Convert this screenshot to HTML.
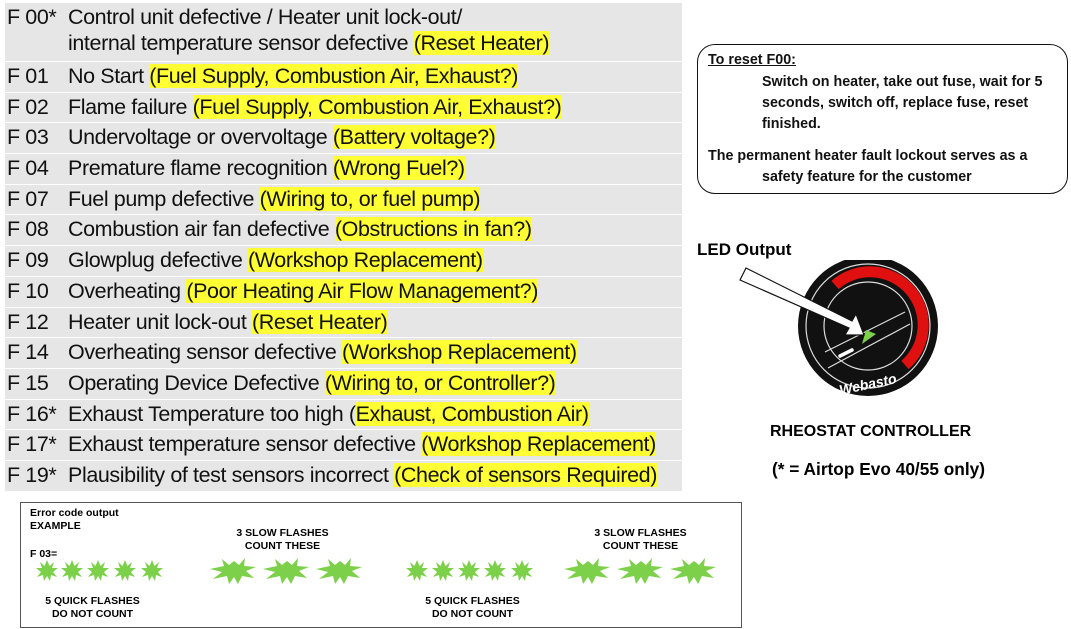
<!DOCTYPE html>
<html><head><meta charset="utf-8"><style>
body{margin:0;width:1071px;height:629px;background:#fff;position:relative;overflow:hidden;font-family:"Liberation Sans",Arial,sans-serif}
.tbl{position:absolute;left:5px;top:3px;width:677px;background:#e6e6e6}
.row{position:relative;height:29.7px;border-bottom:1px solid #fff;font-size:21.5px;line-height:29.7px;color:#111;white-space:nowrap;letter-spacing:-0.4px}
.row .c{position:absolute;left:2px}
.row .d{position:absolute;left:63px}
.y{background:#ffff33}
.b{font-weight:bold}
.abs{position:absolute}
</style></head><body>
<div class="tbl">
<div class="row" style="height:58px;line-height:26px"><span class="c" style="top:1px">F 00*</span><span class="d" style="top:1px">Control unit defective / Heater unit lock-out/<br>internal temperature sensor defective <span class="y">(Reset Heater)</span></span></div>
<div class="row"><span class="c">F 01</span><span class="d">No Start <span class="y">(Fuel Supply, Combustion Air, Exhaust?)</span></span></div>
<div class="row"><span class="c">F 02</span><span class="d">Flame failure <span class="y">(Fuel Supply, Combustion Air, Exhaust?)</span></span></div>
<div class="row"><span class="c">F 03</span><span class="d">Undervoltage or overvoltage <span class="y">(Battery voltage?)</span></span></div>
<div class="row"><span class="c">F 04</span><span class="d">Premature flame recognition <span class="y">(Wrong Fuel?)</span></span></div>
<div class="row"><span class="c">F 07</span><span class="d">Fuel pump defective <span class="y">(Wiring to, or fuel pump)</span></span></div>
<div class="row"><span class="c">F 08</span><span class="d">Combustion air fan defective <span class="y">(Obstructions in fan?)</span></span></div>
<div class="row"><span class="c">F 09</span><span class="d">Glowplug defective <span class="y">(Workshop Replacement)</span></span></div>
<div class="row"><span class="c">F 10</span><span class="d">Overheating <span class="y">(Poor Heating Air Flow Management?)</span></span></div>
<div class="row"><span class="c">F 12</span><span class="d">Heater unit lock-out <span class="y">(Reset Heater)</span></span></div>
<div class="row"><span class="c">F 14</span><span class="d">Overheating sensor defective <span class="y">(Workshop Replacement)</span></span></div>
<div class="row"><span class="c">F 15</span><span class="d">Operating Device Defective <span class="y">(Wiring to, or Controller?)</span></span></div>
<div class="row"><span class="c">F 16*</span><span class="d">Exhaust Temperature too high (<span class="y">Exhaust, Combustion Air)</span></span></div>
<div class="row"><span class="c">F 17*</span><span class="d">Exhaust temperature sensor defective <span class="y">(Workshop Replacement)</span></span></div>
<div class="row" style="border-bottom:none"><span class="c">F 19*</span><span class="d">Plausibility of test sensors incorrect <span class="y">(Check of sensors Required)</span></span></div>
</div>

<div class="abs b" style="left:697px;top:44px;width:369px;height:148px;border:1.5px solid #111;border-radius:18px;font-size:14.3px;line-height:21px;color:#111;white-space:nowrap">
<div style="position:absolute;left:10px;top:5px;text-decoration:underline">To reset F00:</div>
<div style="position:absolute;left:64px;top:27px">Switch on heater, take out fuse, wait for 5<br>seconds, switch off, replace fuse, reset<br>finished.</div>
<div style="position:absolute;left:10px;top:101px">The permanent heater fault lockout serves as a<br><span style="padding-left:54px">safety feature for the customer</span></div>
</div>

<div class="abs b" style="left:697px;top:240px;font-size:17px">LED Output</div>
<svg class="abs" style="left:730px;top:260px" width="230" height="140" viewBox="730 260 230 140">
<circle cx="868" cy="326" r="70" fill="#111"/>
<circle cx="868" cy="326" r="62" fill="none" stroke="#ddd" stroke-width="1.2"/>
<path d="M 835 285 A 52 52 0 1 1 905 365" fill="none" stroke="#e01010" stroke-width="11"/>
<circle cx="868" cy="326" r="44" fill="#111" stroke="#ddd" stroke-width="1.2"/>
<line x1="825" y1="352" x2="905" y2="312" stroke="#ddd" stroke-width="1.2"/>
<line x1="828" y1="368" x2="910" y2="324" stroke="#ddd" stroke-width="1.2"/>
<line x1="840" y1="356" x2="852" y2="350" stroke="#fff" stroke-width="3.5" stroke-linecap="round"/>
<polygon points="862,344 876,334 866,330" fill="#7dd04a"/>
<polygon points="740,280 746,268 852,321 856,314 864,335 845,335 849,328" fill="#fff" stroke="#111" stroke-width="1.2"/>
<text x="868" y="389" font-family="Liberation Sans" font-weight="bold" font-style="italic" font-size="14" fill="#fff" text-anchor="middle" transform="rotate(-12 868 385)">Webasto</text>
</svg>
<div class="abs b" style="left:770px;top:423px;font-size:16px">RHEOSTAT CONTROLLER</div>
<div class="abs b" style="left:772px;top:459px;font-size:17.3px">(* = Airtop Evo 40/55 only)</div>

<div class="abs" style="left:20px;top:502px;width:720px;height:124px;border:1px solid #555"></div>
<div class="abs b" style="left:30px;top:507px;font-size:10.5px;line-height:13px">Error code output<br>EXAMPLE</div>
<div class="abs b" style="left:30px;top:548px;font-size:10.5px">F 03=</div>
<div class="abs b" style="left:30px;top:595px;width:125px;text-align:center;font-size:10.5px;line-height:13px">5 QUICK FLASHES<br>DO NOT COUNT</div>
<div class="abs b" style="left:410px;top:595px;width:125px;text-align:center;font-size:10.5px;line-height:13px">5 QUICK FLASHES<br>DO NOT COUNT</div>
<div class="abs b" style="left:220px;top:527px;width:125px;text-align:center;font-size:10.5px;line-height:13px">3 SLOW FLASHES<br>COUNT THESE</div>
<div class="abs b" style="left:578px;top:527px;width:125px;text-align:center;font-size:10.5px;line-height:13px">3 SLOW FLASHES<br>COUNT THESE</div>
<svg class="abs" style="left:0;top:0" width="1071" height="629">
<defs>
<polygon id="q" points="0,-11 2.5,-5 7,-9 5,-3 11,-3 6,1 10,6 4,4 3,10 0,5 -3,10 -4,4 -10,6 -6,1 -11,-3 -5,-3 -7,-9 -2.5,-5" fill="#7dd04a"/>
<polygon id="s" points="0,-10 5,-6 11,-13 10,-5 22,-4 12,0 20,7 8,5 4,13 0,6 -5,13 -7,5 -21,8 -12,1 -24,-2 -10,-5 -12,-12 -5,-6" fill="#7dd04a"/>
</defs>
<use href="#q" x="47" y="571"/><use href="#q" x="72" y="571"/><use href="#q" x="98" y="571"/><use href="#q" x="125" y="571"/><use href="#q" x="152" y="571"/>
<use href="#q" x="417" y="571"/><use href="#q" x="443" y="571"/><use href="#q" x="469" y="571"/><use href="#q" x="495" y="571"/><use href="#q" x="522" y="571"/>
<use href="#s" x="234" y="571"/><use href="#s" x="287" y="571"/><use href="#s" x="340" y="571"/>
<use href="#s" x="588" y="571"/><use href="#s" x="641" y="571"/><use href="#s" x="694" y="571"/>
</svg>
</body></html>
